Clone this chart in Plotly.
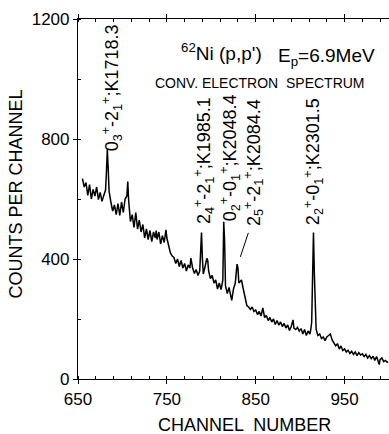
import plotly.graph_objects as go

# ---- data ----
channels = [655, 657, 659, 661, 663, 665, 667, 669, 671, 673, 675, 677, 679, 681, 682, 683, 684, 685,
            687, 689, 691, 693, 695, 697, 699, 701, 703, 705, 706, 707, 709, 711, 713, 715, 717, 719,
            721, 723, 725, 727, 729, 731, 733, 735, 737, 738, 739, 741, 743, 745, 747, 749, 750, 752,
            754, 756, 758, 760, 762, 764, 766, 768, 770, 772, 774, 776, 777, 779, 781, 783, 785, 787,
            788, 789, 790, 791, 793, 795, 796, 797, 799, 801, 803, 805, 807, 809, 811, 813, 814, 815,
            816, 818, 820, 822, 823, 825, 827, 829, 830, 831, 833, 834, 836, 838, 840, 842, 844, 846,
            848, 850, 852, 854, 856, 858, 860, 862, 864, 866, 868, 870, 872, 874, 876, 878, 880, 882,
            884, 886, 888, 890, 892, 893, 895, 897, 899, 901, 903, 905, 907, 909, 911, 912, 913, 914,
            915, 916, 917, 918, 920, 922, 924, 926, 928, 930, 932, 934, 936, 938, 940, 942, 944, 946,
            948, 950, 952, 954, 956, 958, 960, 962, 964, 966, 968, 970, 972, 974, 976, 978, 980, 982,
            984, 986, 988, 989, 990, 992, 994, 996, 998, 999]
counts = [668, 640, 655, 612, 648, 600, 632, 610, 640, 598, 622, 592, 612, 630, 690, 765, 700, 625,
          590, 560, 580, 548, 585, 545, 590, 555, 600, 610, 658, 595, 525, 548, 505, 555, 500, 530,
          490, 515, 470, 500, 465, 495, 458, 490, 470, 495, 465, 490, 450, 478, 455, 497, 470, 440,
          420, 410, 405, 385, 400, 375, 395, 370, 385, 360, 380, 370, 403, 370, 352, 365, 345, 360,
          420, 488, 400, 350, 375, 402, 395, 360, 335, 345, 320, 330, 300, 320, 298, 330, 524, 460,
          310, 285, 305, 270, 262, 300, 320, 383, 370, 320, 325, 330, 300, 270, 245, 240, 232, 240,
          225, 230, 215, 225, 210, 237, 205, 212, 195, 205, 190, 200, 182, 195, 180, 190, 175, 185,
          170, 180, 162, 175, 197, 170, 165, 172, 160, 168, 150, 165, 145, 160, 150, 165, 190, 340,
          488, 350, 200, 165, 145, 150, 135, 140, 128, 140, 145, 150, 130, 120, 110, 118, 100, 110,
          95, 100, 90, 96, 85, 92, 82, 90, 78, 88, 80, 84, 75, 82, 70, 78, 68, 76,
          62, 75, 55, 48, 65, 70, 58, 62, 56, 58]

x_tickvals = [650, 750, 850, 950]
y_tickvals = [0, 400, 800, 1200]

peak_labels = [
    "0<sub>3</sub><sup>+</sup>-2<sub>1</sub><sup>+</sup>;K1718.3",
    "2<sub>4</sub><sup>+</sup>-2<sub>1</sub><sup>+</sup>;K1985.1",
    "0<sub>2</sub><sup>+</sup>-0<sub>1</sub><sup>+</sup>;K2048.4",
    "2<sub>5</sub><sup>+</sup>-2<sub>1</sub><sup>+</sup>;K2084.4",
    "2<sub>2</sub><sup>+</sup>-0<sub>1</sub><sup>+</sup>;K2301.5",
]
peak_label_x = [687.5, 792, 821.5, 847, 914.5]
peak_label_y = [970, 727, 737, 720, 723]

FONT = "Liberation Sans"
BLACK = "black"

annotations = []
for t, xx, yy in zip(peak_labels, peak_label_x, peak_label_y):
    annotations.append(dict(x=xx, y=yy, xref="x", yref="y", text=t, textangle=-90,
                            xanchor="center", yanchor="middle", showarrow=False,
                            font=dict(family=FONT, size=18, color=BLACK)))

annotations += [
    dict(x=812, y=1090, xref="x", yref="y", text="<sup>62</sup>Ni (p,p')",
         showarrow=False, font=dict(family=FONT, size=19, color=BLACK)),
    dict(x=930, y=1073, xref="x", yref="y", text="E<sub>p</sub>=6.9MeV",
         showarrow=False, font=dict(family=FONT, size=19, color=BLACK)),
    dict(x=855, y=987, xref="x", yref="y", text="CONV. ELECTRON  SPECTRUM",
         showarrow=False, font=dict(family=FONT, size=14, color=BLACK)),
    dict(x=0.535, y=-0.128, xref="paper", yref="paper", text="CHANNEL  NUMBER",
         xanchor="center", yanchor="middle", showarrow=False,
         font=dict(family=FONT, size=18, color=BLACK)),
    dict(x=-0.2, y=0.515, xref="paper", yref="paper", text="COUNTS PER CHANNEL",
         xanchor="center", yanchor="middle", textangle=-90, showarrow=False,
         font=dict(family=FONT, size=18, color=BLACK)),
]

fig = go.Figure()
fig.add_trace(go.Scatter(x=channels, y=counts, mode="lines",
                         line=dict(color=BLACK, width=1.5), showlegend=False))

# leader line for the 2084.4 label
fig.add_shape(type="line", x0=832.7, y0=407, x1=841.7, y1=487, xref="x", yref="y",
              line=dict(color=BLACK, width=1))

fig.update_layout(
    width=389, height=434,
    margin=dict(l=78, r=0, t=19, b=55),
    paper_bgcolor="white", plot_bgcolor="white",
    font=dict(family=FONT, color=BLACK),
    annotations=annotations,
)

fig.update_xaxes(range=[650, 1000], tickvals=x_tickvals, ticks="outside", ticklen=4,
                 tickcolor=BLACK, showline=True, linecolor=BLACK, linewidth=1.2,
                 mirror="allticks", showgrid=False, zeroline=False,
                 tickfont=dict(family=FONT, size=17, color=BLACK),
                 minor=dict(dtick=20, tick0=650, ticks="inside", ticklen=3, tickcolor=BLACK))
fig.update_yaxes(range=[0, 1200], tickvals=y_tickvals, ticks="outside", ticklen=4,
                 tickcolor=BLACK, showline=True, linecolor=BLACK, linewidth=1.2,
                 showgrid=False, zeroline=False,
                 tickfont=dict(family=FONT, size=17, color=BLACK),
                 minor=dict(dtick=200, ticks="inside", ticklen=3, tickcolor=BLACK))

fig.write_html("out.html")
